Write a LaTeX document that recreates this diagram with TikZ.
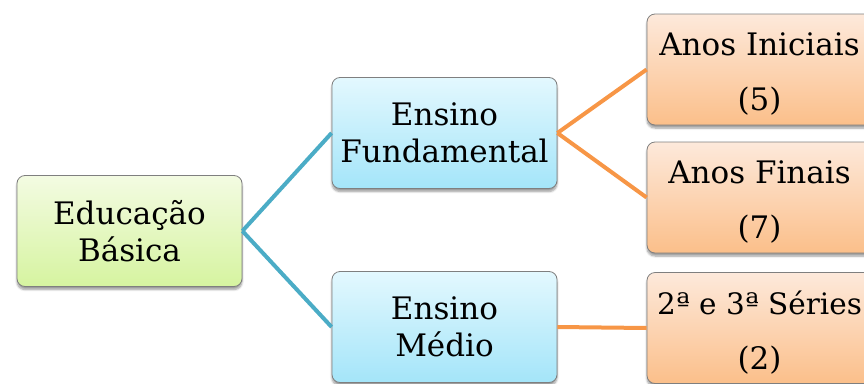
\documentclass[tikz,border=0pt]{standalone}
\usepackage{fontspec}
\setmainfont{DejaVu Serif}
\usetikzlibrary{shadows.blur}
\definecolor{grtop}{HTML}{F3FBE2}
\definecolor{grbot}{HTML}{D6F4A0}
\definecolor{bltop}{HTML}{E3F8FE}
\definecolor{blbot}{HTML}{A4E5F9}
\definecolor{ortop}{HTML}{FDE9DB}
\definecolor{orbot}{HTML}{FBBF8A}
\definecolor{edgegray}{HTML}{7F7F7F}
\definecolor{linkblue}{HTML}{4BACC6}
\definecolor{linkorange}{HTML}{F79646}
% taller first line, so the two-line labels of the right column sit a little lower
\newcommand{\toprule}{\rule{0pt}{32pt}}
\tikzset{
  box/.style={rectangle, rounded corners=8pt, draw=edgegray, line width=0.8pt,
    minimum width=225pt, minimum height=111pt, align=center, inner sep=0pt,
    font=\fontsize{31}{37}\selectfont,
    blur shadow={shadow xshift=0pt, shadow yshift=-3pt, shadow blur steps=6, shadow opacity=40}},
  greenbox/.style={box, top color=grtop, bottom color=grbot},
  bluebox/.style={box, top color=bltop, bottom color=blbot},
  orangebox/.style={box, top color=ortop, bottom color=orbot},
  bluelink/.style={draw=linkblue, line width=4pt},
  orangelink/.style={draw=linkorange, line width=4pt}
}
\begin{document}
\begin{tikzpicture}[x=1pt,y=-1pt]
  \useasboundingbox (0,0) rectangle (864,383);
  \clip (0,0) rectangle (864,383);
  % level 1
  \node[greenbox] (edu) at (129.5,231) {Educação\\Básica};
  % level 2
  \node[bluebox] (fund) at (444.5,133) {Ensino\\Fundamental};
  \node[bluebox] (med) at (444.5,327) {Ensino\\Médio};
  % level 3
  \node[orangebox] (ini) at (759.5,69.5) {\toprule Anos Iniciais\\[18pt](5)};
  \node[orangebox] (fin) at (759.5,197.5) {\toprule Anos Finais\\[18pt](7)};
  \node[orangebox] (ser) at (759.5,328) {\toprule{\fontsize{29.5}{37}\selectfont 2ª e 3ª Séries}\\[18pt](2)};
  % connectors
  \draw[bluelink] (edu.east) -- (fund.west);
  \draw[bluelink] (edu.east) -- (med.west);
  \draw[orangelink] (fund.east) -- (ini.west);
  \draw[orangelink] (fund.east) -- (fin.west);
  \draw[orangelink] (med.east) -- (ser.west);
\end{tikzpicture}
\end{document}
